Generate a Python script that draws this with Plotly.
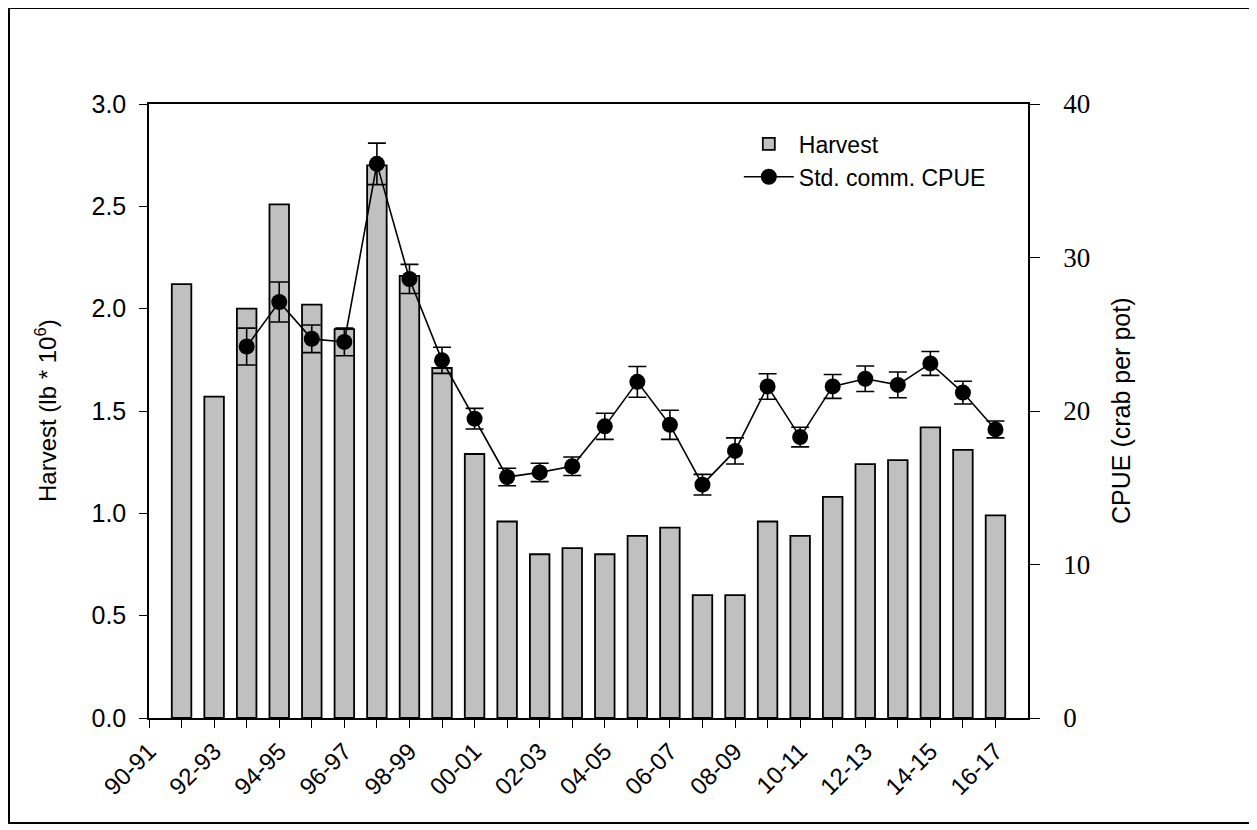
import plotly.graph_objects as go

seasons = ["90-91", "91-92", "92-93", "93-94", "94-95", "95-96", "96-97", "97-98",
           "98-99", "99-00", "00-01", "01-02", "02-03", "03-04", "04-05", "05-06",
           "06-07", "07-08", "08-09", "09-10", "10-11", "11-12", "12-13", "13-14",
           "14-15", "15-16", "16-17"]

harvest = [None, 2.12, 1.57, 2.00, 2.51, 2.02, 1.90, 2.70, 2.16, 1.71, 1.29,
           0.96, 0.80, 0.83, 0.80, 0.89, 0.93, 0.60, 0.60, 0.96, 0.89, 1.08,
           1.24, 1.26, 1.42, 1.31, 0.99]

cpue = [None, None, None, 24.2, 27.1, 24.7, 24.5, 36.1, 28.6, 23.3, 19.5,
        15.7, 16.0, 16.4, 19.0, 21.9, 19.1, 15.2, 17.4, 21.6, 18.3, 21.6,
        22.1, 21.7, 23.1, 21.2, 18.8]

cpue_err = [None, None, None, 1.2, 1.3, 0.9, 0.9, 1.35, 0.95, 0.85, 0.67,
            0.57, 0.6, 0.6, 0.85, 1.0, 0.95, 0.67, 0.85, 0.83, 0.64, 0.78,
            0.83, 0.84, 0.78, 0.74, 0.55]

SANS = "Arial, Liberation Sans, sans-serif"
SERIF = "Times New Roman, Liberation Serif, serif"

# plot area in figure pixels (page has an 7px offset)
L, T, PW, PH = 141, 96, 879, 614
W, H = 1257, 830

fig = go.Figure()
fig.add_trace(go.Bar(
    x=seasons, y=harvest, name="Harvest", width=0.6,
    marker=dict(color="#c0c0c0", line=dict(color="black", width=1.8)),
    yaxis="y",
))
fig.add_trace(go.Scatter(
    x=seasons, y=cpue, name="Std. comm. CPUE", mode="lines+markers",
    line=dict(color="black", width=1.6),
    marker=dict(color="black", size=16, symbol="circle"),
    error_y=dict(type="data", array=cpue_err, visible=True, color="black",
                 thickness=1.6, width=9),
    connectgaps=False,
    yaxis="y2",
))

fig.update_layout(
    width=W, height=H,
    margin=dict(l=L, r=W - L - PW, t=T, b=H - T - PH),
    paper_bgcolor="white", plot_bgcolor="white",
    font=dict(family=SANS, size=23, color="black"),
    showlegend=True,
    legend=dict(x=0.671, y=0.970, xanchor="left", yanchor="top",
                bgcolor="rgba(0,0,0,0)", font=dict(family=SANS, size=23),
                itemwidth=50, tracegroupgap=0),
    xaxis=dict(
        type="category", categoryorder="array", categoryarray=seasons,
        range=[0, 26.999], tickmode="linear", tick0=0, dtick=1, ticklabelstep=2,
        tickangle=-45, ticks="outside", ticklen=8, tickwidth=1, tickcolor="black",
        showline=True, linecolor="black", linewidth=1.5, mirror=True,
        showgrid=False, zeroline=False,
        tickfont=dict(family=SANS, size=24),
    ),
    yaxis=dict(
        range=[0, 3], dtick=0.5, tickformat=".1f", ticks="outside", ticklen=8,
        tickwidth=1, tickcolor="black", showline=True, linecolor="black",
        linewidth=1.5, showgrid=False, zeroline=False,
        tickfont=dict(family=SANS, size=25), ticklabelstandoff=8,
    ),
    yaxis2=dict(
        range=[0, 40], dtick=10, overlaying="y", side="right", ticks="outside",
        ticklen=10, tickwidth=1, tickcolor="black", showline=True,
        linecolor="black", linewidth=1.5, showgrid=False, zeroline=False,
        tickfont=dict(family=SERIF, size=27), ticklabelstandoff=18,
    ),
    annotations=[
        dict(text="Harvest (lb * 10<sup>6</sup>)", xref="paper", yref="paper",
             x=(45 - 148) / PW, y=0.5, textangle=-90, showarrow=False,
             font=dict(family=SANS, size=24), xanchor="center", yanchor="middle"),
        dict(text="CPUE (crab per pot)", xref="paper", yref="paper",
             x=(1120 - 148) / PW, y=0.5, textangle=-90, showarrow=False,
             font=dict(family=SANS, size=25), xanchor="center", yanchor="middle"),
    ],
    shapes=[
        dict(type="rect", xref="paper", yref="paper",
             x0=(8 - 148) / PW, x1=(1250 - 148) / PW,
             y0=(717 - 822) / PH, y1=(717 - 7) / PH,
             line=dict(color="black", width=2), fillcolor="rgba(0,0,0,0)",
             layer="below"),
    ],
)

fig.write_html("out.html")
